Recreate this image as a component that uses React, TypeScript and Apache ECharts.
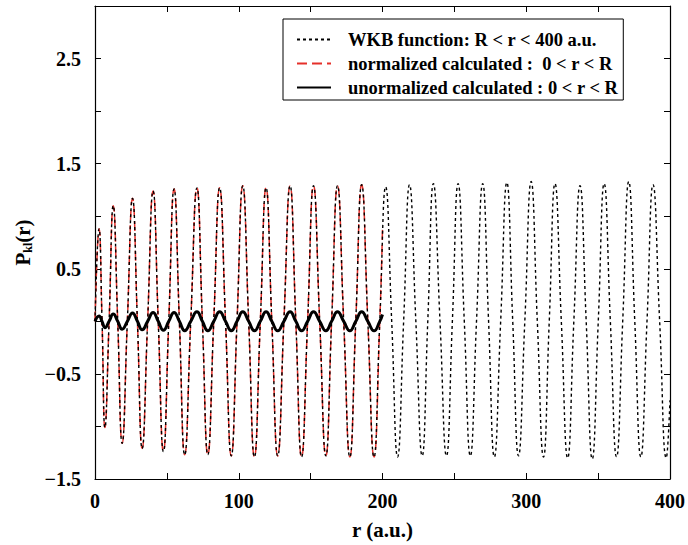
import React, { useEffect, useRef } from "react";
import * as echarts from "echarts";

// r positions (a.u.) of WKB maxima, zero crossings and minima
const wkbR = [
  0, 2.8, 4.9, 6.9, 9.8, 12.7, 15.8, 18.9, 22.5, 26.1, 29.5, 32.8, 36.6, 40.4, 44.0, 47.6,
  51.3, 55.0, 58.7, 62.4, 66.6, 70.9, 74.7, 78.5, 82.6, 86.7, 90.8, 94.8, 98.8, 102.8,
  106.9, 110.9, 115.0, 119.0, 123.0, 127.1, 131.4, 135.7, 139.7, 143.7, 147.9, 152.0,
  156.3, 160.6, 164.6, 168.7, 173.0, 177.3, 181.4, 185.5, 189.8, 194.1, 198.1, 202.2,
  206.4, 210.5, 214.7, 218.8, 223.2, 227.6, 231.5, 235.4, 240.0, 244.5, 248.6, 252.6,
  256.9, 261.1, 265.4, 269.7, 273.8, 277.8, 282.2, 286.5, 290.6, 294.6, 299.0, 303.4,
  307.7, 312.0, 316.0, 320.0, 324.4, 328.8, 333.1, 337.4, 341.7, 345.9, 350.1, 354.2,
  358.5, 362.8, 367.1, 371.3, 375.5, 379.7, 384.0, 388.2, 392.8, 397.4, 400,
];
const wkbP = [
  0, 0.88, 0, -1.01, 0, 1.1, 0, -1.16, 0, 1.17, 0, -1.21, 0, 1.24, 0, -1.24,
  0, 1.26, 0, -1.27, 0, 1.27, 0, -1.27, 0, 1.27, 0, -1.28, 0, 1.29,
  0, -1.29, 0, 1.27, 0, -1.28, 0, 1.29, 0, -1.29, 0, 1.29,
  0, -1.28, 0, 1.29, 0, -1.29, 0, 1.3, 0, -1.29, 0, 1.28,
  0, -1.29, 0, 1.3, 0, -1.28, 0, 1.31, 0, -1.28, 0, 1.31,
  0, -1.28, 0, 1.31, 0, -1.29, 0, 1.32, 0, -1.28, 0, 1.33,
  0, -1.29, 0, 1.31, 0, -1.3, 0, 1.29, 0, -1.31, 0, 1.31,
  0, -1.29, 0, 1.33, 0, -1.29, 0, 1.3, 0, -1.3, -0.75,
];

const normR = [
  0, 2.8, 4.9, 6.9, 9.8, 12.7, 15.8, 18.9, 22.5, 26.1, 29.5, 32.8, 36.6, 40.4, 44.0, 47.6,
  51.3, 55.0, 58.7, 62.4, 66.6, 70.9, 74.7, 78.5, 82.6, 86.7, 90.8, 94.8, 98.8, 102.8,
  106.9, 110.9, 115.0, 119.0, 123.0, 127.1, 131.4, 135.7, 139.7, 143.7, 147.9, 152.0,
  156.3, 160.6, 164.6, 168.7, 173.0, 177.3, 181.4, 185.5, 189.8, 194.1, 198.1, 200,
];
const normP = [
  0, 0.88, 0, -1.01, 0, 1.1, 0, -1.16, 0, 1.17, 0, -1.21, 0, 1.24, 0, -1.24,
  0, 1.26, 0, -1.27, 0, 1.27, 0, -1.27, 0, 1.27, 0, -1.28, 0, 1.29,
  0, -1.29, 0, 1.27, 0, -1.28, 0, 1.29, 0, -1.29, 0, 1.29,
  0, -1.28, 0, 1.29, 0, -1.29, 0, 1.3, 0, -1.29, 0, 0.88,
];

const unnormR = normR;
const unnormP = [
  0, 0.05, 0, -0.06, 0, 0.07, 0, -0.075, 0, 0.08, 0, -0.08, 0, 0.085, 0, -0.085,
  0, 0.085, 0, -0.09, 0, 0.09, 0, -0.09, 0, 0.09, 0, -0.09, 0, 0.09,
  0, -0.09, 0, 0.09, 0, -0.09, 0, 0.09, 0, -0.09, 0, 0.09,
  0, -0.09, 0, 0.09, 0, -0.09, 0, 0.09, 0, -0.09, 0, 0.065,
];

const xTickLabels = [0, 100, 200, 300, 400];
const yTickLabels = [-1.5, -0.5, 0.5, 1.5, 2.5];

const legendNames = [
  "WKB function: R < r < 400 a.u.",
  "normalized calculated :  0 < r < R",
  "unormalized calculated : 0 < r < R",
];

const FONT = "'Liberation Serif', 'Times New Roman', serif";

const zip = (xs: number[], ys: number[]) => xs.map((x, i) => [x, ys[i]]);
const fmt = (v: number) => String(v).replace("-", "\u2212");

export default function App() {
  const ref = useRef<HTMLDivElement>(null);
  useEffect(() => {
    if (!ref.current) return;
    const chart = echarts.init(ref.current, null, { renderer: "svg" });
    const axisCommon = {
      axisLine: { show: true, onZero: false, lineStyle: { color: "#000", width: 1.2 } },
      axisTick: { show: true, inside: true, length: 6, lineStyle: { color: "#000" } },
      splitLine: { show: false },
    };
    chart.setOption({
      animation: false,
      backgroundColor: "#fff",
      grid: { left: 95, right: 16, top: 6, bottom: 59 },
      legend: {
        orient: "vertical",
        left: 283,
        top: 19,
        data: legendNames,
        borderColor: "#000",
        borderWidth: 1,
        padding: [11, 5, 3, 13],
        itemGap: 5,
        itemWidth: 34,
        itemHeight: 18,
        itemStyle: { opacity: 0 },
        textStyle: {
          fontFamily: FONT,
          fontWeight: "bold",
          fontSize: 18.5,
          color: "#000",
          padding: [0, 0, 0, 12],
        },
      },
      xAxis: [
        {
          type: "value",
          min: 0,
          max: 400,
          interval: 50,
          ...axisCommon,
          name: "r (a.u.)",
          nameLocation: "middle",
          nameGap: 40,
          nameTextStyle: { fontFamily: FONT, fontWeight: "bold", fontSize: 21, color: "#000" },
          axisLabel: {
            fontFamily: FONT,
            fontWeight: "bold",
            fontSize: 20,
            color: "#000",
            margin: 12,
            formatter: (v: number) => (xTickLabels.includes(v) ? fmt(v) : ""),
          },
        },
        {
          type: "value",
          position: "top",
          min: 0,
          max: 400,
          interval: 50,
          ...axisCommon,
          axisLabel: { show: false },
        },
      ],
      yAxis: [
        {
          type: "value",
          min: -1.5,
          max: 3.0,
          interval: 0.5,
          ...axisCommon,
          name: "P{sub|kl}(r)",
          nameLocation: "middle",
          nameRotate: 90,
          nameGap: 51,
          nameTextStyle: {
            fontFamily: FONT,
            fontWeight: "bold",
            fontSize: 21,
            color: "#000",
            rich: {
              sub: {
                fontFamily: FONT,
                fontWeight: "bold",
                fontSize: 12,
                color: "#000",
                verticalAlign: "bottom",
                padding: [9, 0, 0, 0],
              },
            },
          },
          axisLabel: {
            fontFamily: FONT,
            fontWeight: "bold",
            fontSize: 20,
            color: "#000",
            margin: 14,
            formatter: (v: number) =>
              yTickLabels.some((t) => Math.abs(t - v) < 1e-6) ? fmt(v) : "",
          },
        },
        {
          type: "value",
          position: "right",
          min: -1.5,
          max: 3.0,
          interval: 0.5,
          ...axisCommon,
          axisLabel: { show: false },
        },
      ],
      series: [
        {
          name: legendNames[1],
          type: "line",
          data: zip(normR, normP),
          smooth: 0.5,
          symbol: "none",
          z: 2,
          lineStyle: { color: "#e5302a", width: 1.5, type: [10, 5] },
          itemStyle: { color: "#e5302a" },
        },
        {
          name: legendNames[0],
          type: "line",
          data: zip(wkbR, wkbP),
          smooth: 0.5,
          symbol: "none",
          z: 3,
          lineStyle: { color: "#000", width: 1.4, type: [3, 3] },
          itemStyle: { color: "#000" },
        },
        {
          name: legendNames[2],
          type: "line",
          data: zip(unnormR, unnormP),
          smooth: 0.5,
          symbol: "none",
          z: 4,
          lineStyle: { color: "#000", width: 3 },
          itemStyle: { color: "#000" },
        },
      ],
    });
    return () => chart.dispose();
  }, []);
  return (
    <div
      ref={ref}
      style={{ position: "fixed", left: 0, top: 0, width: 688, height: 545, background: "#fff" }}
    />
  );
}
